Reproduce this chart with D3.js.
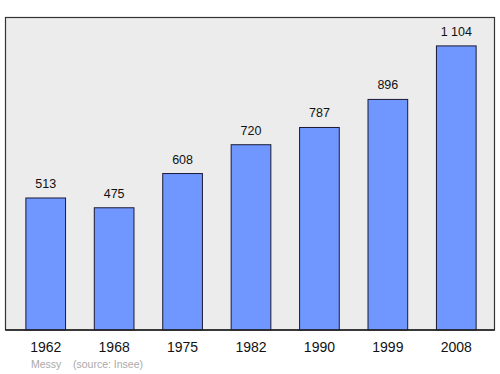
<!DOCTYPE html>
<html>
<head>
<meta charset="utf-8">
<script src="https://cdn.jsdelivr.net/npm/d3@7"></script>
<style>
  html, body { margin: 0; padding: 0; background: #fff; }
  text { font-family: "Liberation Sans", Arial, sans-serif; }
</style>
</head>
<body>
<div id="container"></div>
<script>
const years = ['1962', '1968', '1975', '1982', '1990', '1999', '2008'];
const population = [513, 475, 608, 720, 787, 896, 1104];
const valueLabels = ['513', '475', '608', '720', '787', '896', '1 104'];
const townName = 'Messy';
const sourceNote = '(source: Insee)';

const WIDTH = 500;
const HEIGHT = 374;
const FRAME = { left: 5.5, top: 17.5, right: 494.5, bottom: 330 };

const svg = d3.select('#container')
  .append('svg')
  .attr('width', WIDTH)
  .attr('height', HEIGHT);

// plot background frame
svg.append('rect')
  .attr('x', FRAME.left)
  .attr('y', FRAME.top)
  .attr('width', FRAME.right - FRAME.left)
  .attr('height', FRAME.bottom - FRAME.top)
  .style('fill', '#ececec')
  .style('stroke', '#333')
  .style('stroke-width', 1.2);

const x = d3.scaleBand()
  .domain(years)
  .range([11.5, 490.5])
  .paddingInner(0.42)
  .paddingOuter(0.21);

const y = d3.scaleLinear()
  .domain([0, d3.max(population) * 1.1])
  .range([FRAME.bottom, FRAME.top]);

svg.selectAll('rect.bar')
  .data(population)
  .enter()
  .append('rect')
  .attr('class', 'bar')
  .attr('x', (d, i) => x(years[i]))
  .attr('y', d => y(d))
  .attr('width', x.bandwidth())
  .attr('height', d => FRAME.bottom - y(d))
  .style('fill', '#7097ff')
  .style('stroke', '#1a1a33')
  .style('stroke-width', 1);

svg.selectAll('text.value')
  .data(population)
  .enter()
  .append('text')
  .attr('class', 'value')
  .attr('x', (d, i) => x(years[i]) + x.bandwidth() / 2)
  .attr('y', d => y(d) - 10)
  .attr('text-anchor', 'middle')
  .style('font-size', '12.5px')
  .style('fill', '#111')
  .text((d, i) => valueLabels[i]);

// redraw frame bottom line on top of bars
svg.append('line')
  .attr('x1', FRAME.left)
  .attr('x2', FRAME.right)
  .attr('y1', FRAME.bottom)
  .attr('y2', FRAME.bottom)
  .style('stroke', '#222')
  .style('stroke-width', 1.6);

const xAxis = svg.append('g')
  .attr('transform', `translate(0,${FRAME.bottom})`)
  .call(d3.axisBottom(x).tickSize(0).tickPadding(0));
xAxis.select('.domain').remove();
xAxis.selectAll('text')
  .attr('dy', null)
  .attr('y', 22)
  .style('font-family', '"Liberation Sans", Arial, sans-serif')
  .style('font-size', '14px')
  .style('fill', '#111');

svg.append('text')
  .attr('x', 31)
  .attr('y', 368)
  .style('font-size', '10.5px')
  .style('fill', '#aaa')
  .text(townName);

svg.append('text')
  .attr('x', 73)
  .attr('y', 368)
  .style('font-size', '10.5px')
  .style('fill', '#aaa')
  .text(sourceNote);
</script>
</body>
</html>
